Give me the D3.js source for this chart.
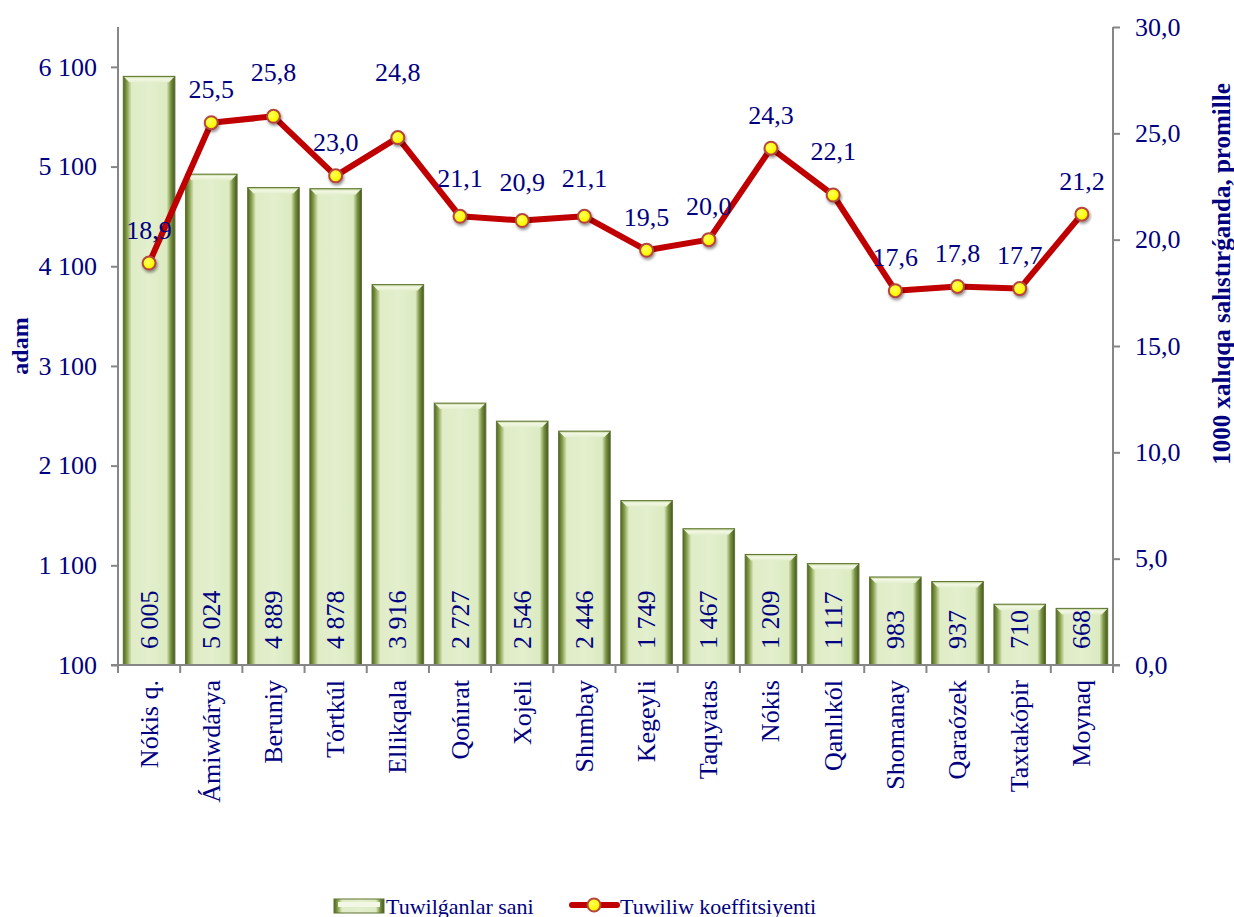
<!DOCTYPE html>
<html>
<head>
<meta charset="utf-8">
<script src="https://cdn.jsdelivr.net/npm/d3@7/dist/d3.min.js"></script>
<style>
  body { margin: 0; background: #fff; }
  svg text { font-family: "Liberation Serif", "Tinos", "Times New Roman", "DejaVu Serif", "Noto Serif", serif !important; fill: #000080; }
</style>
</head>
<body>
<div id="main"></div>
<script>
var regions = ['Nókis q.', 'Ámiwdárya', 'Beruniy', 'Tórtkúl', 'Ellikqala', 'Qońırat', 'Xojeli', 'Shımbay',
    'Kegeyli', 'Taqıyatas', 'Nókis', 'Qanlıkól', 'Shomanay', 'Qaraózek', 'Taxtakópir', 'Moynaq'];
var births = [6005, 5024, 4889, 4878, 3916, 2727, 2546, 2446, 1749, 1467, 1209, 1117, 983, 937, 710, 668];
var rates = [18.9, 25.5, 25.8, 23.0, 24.8, 21.1, 20.9, 21.1, 19.5, 20.0, 24.3, 22.1, 17.6, 17.8, 17.7, 21.2];
var leftTicks = [100, 1100, 2100, 3100, 4100, 5100, 6100];
var rightTicks = [0, 5, 10, 15, 20, 25, 30];
var seriesNames = ['Tuwilǵanlar sani', 'Tuwiliw koeffitsiyenti'];

var locale = d3.formatLocale({ decimal: ',', thousands: '\u00a0', grouping: [3], currency: ['', ''] });
var fmtInt = locale.format(',d');
var fmtDec = locale.format('.1f');

var W = 1234, H = 917;
var margins = { top: 27, bottom: 252, left: 118, right: 121 };
var width = W - margins.left - margins.right, height = H - margins.top - margins.bottom;
var fs = '26px';

var x = d3.scaleBand().domain(regions).range([0, width]).paddingInner(0.17).paddingOuter(0.085);
var yL = d3.scaleLinear().domain([100, 6500]).range([height, 0]);
var yR = d3.scaleLinear().domain([0, 30]).range([height, 0]);

var svg = d3.select('#main').append('svg').attr('width', W).attr('height', H);
var defs = svg.append('defs');

var barGrad = defs.append('linearGradient').attr('id', 'barGrad').attr('x1', 0).attr('x2', 1).attr('y1', 0).attr('y2', 0);
[[0, '#4f6426'], [0.07, '#849d48'], [0.16, '#dfecc6'], [0.5, '#e3efcd'], [0.84, '#dcebc2'], [0.92, '#7a9342'], [1, '#445720']]
    .forEach(function(s) { barGrad.append('stop').attr('offset', s[0]).attr('stop-color', s[1]); });
var topGrad = defs.append('linearGradient').attr('id', 'topGrad').attr('x1', 0).attr('x2', 0).attr('y1', 0).attr('y2', 1);
[[0, '#b7cc85'], [0.4, '#f3f8e6'], [1, '#e3efcd']]
    .forEach(function(s) { topGrad.append('stop').attr('offset', s[0]).attr('stop-color', s[1]); });
var dotGrad = defs.append('radialGradient').attr('id', 'dotGrad').attr('cx', 0.4).attr('cy', 0.4).attr('r', 0.6);
[[0, '#ffff66'], [0.7, '#ffff00'], [1, '#e6d600']]
    .forEach(function(s) { dotGrad.append('stop').attr('offset', s[0]).attr('stop-color', s[1]); });
var shadow = defs.append('filter').attr('id', 'shadow').attr('x', '-50%').attr('y', '-50%').attr('width', '200%').attr('height', '200%');
shadow.append('feDropShadow').attr('dx', 1).attr('dy', 2).attr('stdDeviation', 1.5).attr('flood-color', '#000').attr('flood-opacity', 0.45);

var chart = svg.append('g').attr('transform', 'translate(' + margins.left + ',' + margins.top + ')');

// bars
var bw = x.bandwidth();
var bars = chart.selectAll('.bar').data(births).enter().append('g').attr('class', 'bar')
    .attr('transform', function(d, i) { return 'translate(' + x(regions[i]) + ',0)'; });
bars.append('rect')
    .attr('x', 0).attr('width', bw)
    .attr('y', function(d) { return yL(d); })
    .attr('height', function(d) { return height - yL(d); })
    .attr('fill', 'url(#barGrad)');
bars.append('path')
    .attr('fill', 'url(#topGrad)')
    .attr('d', function(d) {
        var t = yL(d), e = 6;
        return 'M0 ' + t + ' L' + bw + ' ' + t + ' L' + (bw - e) + ' ' + (t + e) + ' L' + e + ' ' + (t + e) + ' Z';
    });
bars.append('rect')
    .attr('x', 0).attr('width', bw)
    .attr('y', function(d) { return yL(d); })
    .attr('height', function(d) { return height - yL(d); })
    .attr('fill', 'none').attr('stroke', '#5d7330').attr('stroke-width', 1);
bars.append('text')
    .attr('transform', 'translate(' + (bw / 2) + ',' + (height - 16) + ') rotate(-90)')
    .attr('dominant-baseline', 'central')
    .style('font-size', fs)
    .text(function(d) { return fmtInt(d); });

// axes
var axisColor = '#868686';
var gL = chart.append('g').call(d3.axisLeft(yL).tickValues(leftTicks).tickSize(7).tickPadding(14)
    .tickFormat(function(d) { return fmtInt(d); }));
var gR = chart.append('g').attr('transform', 'translate(' + width + ',0)')
    .call(d3.axisRight(yR).tickValues(rightTicks).tickSize(7).tickPadding(15)
    .tickFormat(function(d) { return fmtDec(d); }));
[gL, gR].forEach(function(g) {
    g.attr('font-family', null);
    g.select('.domain').attr('stroke', axisColor).attr('stroke-width', 2).attr('d', 'M0,0V' + (height + 8));
    g.selectAll('.tick line').attr('stroke', axisColor).attr('stroke-width', 2);
    g.selectAll('.tick text').attr('fill', '#000080').style('font-size', fs);
});
gL.select('.domain').attr('d', 'M0,0V' + height);

var gX = chart.append('g').attr('transform', 'translate(0,' + height + ')');
gX.append('line').attr('x1', -7).attr('x2', width + 7).attr('stroke', axisColor).attr('stroke-width', 2);
var bounds = regions.map(function(r) { return x(r) - x.step() * x.paddingInner() / 2; }).concat([width]);
bounds[0] = 0;
gX.selectAll('.xtick').data(bounds).enter().append('line')
    .attr('x1', function(d) { return d; }).attr('x2', function(d) { return d; })
    .attr('y1', 0).attr('y2', 8).attr('stroke', axisColor).attr('stroke-width', 2);
gX.selectAll('.xlab').data(regions).enter().append('text')
    .attr('transform', function(d) { return 'translate(' + (x(d) + bw / 2) + ',15) rotate(-90)'; })
    .attr('text-anchor', 'end').attr('dominant-baseline', 'central')
    .style('font-size', fs)
    .text(function(d) { return d; });

// line series
var line = d3.line()
    .x(function(d, i) { return x(regions[i]) + bw / 2; })
    .y(function(d) { return yR(d); });
chart.append('path').datum(rates)
    .attr('d', line).attr('fill', 'none')
    .attr('stroke', '#c00000').attr('stroke-width', 6).attr('stroke-linejoin', 'round');
chart.selectAll('.dot').data(rates).enter().append('circle')
    .attr('cx', function(d, i) { return x(regions[i]) + bw / 2; })
    .attr('cy', function(d) { return yR(d); })
    .attr('r', 6.5)
    .attr('fill', 'url(#dotGrad)').attr('stroke', '#b5453f').attr('stroke-width', 2)
    .attr('filter', 'url(#shadow)');
var labelLift = { 2: 44, 4: 65, 11: 44, 5: 38, 6: 38, 7: 38 };
chart.selectAll('.rlab').data(rates).enter().append('text')
    .attr('x', function(d, i) { return x(regions[i]) + bw / 2; })
    .attr('y', function(d, i) { return yR(d) - (labelLift[i] || 33); })
    .attr('text-anchor', 'middle').attr('dominant-baseline', 'central')
    .style('font-size', fs)
    .text(function(d) { return fmtDec(d); });

// axis titles
svg.append('text')
    .attr('transform', 'translate(20,346) rotate(-90)')
    .attr('text-anchor', 'middle').attr('dominant-baseline', 'central')
    .style('font-size', '24px').style('font-weight', 'bold')
    .text('adam');
svg.append('text')
    .attr('transform', 'translate(1221,' + (margins.top + 247) + ') rotate(-90)')
    .attr('text-anchor', 'middle').attr('dominant-baseline', 'central')
    .style('font-size', '25px').style('font-weight', 'bold')
    .text('1000 xalıqqa salıstırǵanda, promille');

// legend
var legend = svg.append('g').attr('transform', 'translate(0,905)');
legend.append('rect').attr('x', 334).attr('y', -6).attr('width', 50).attr('height', 14)
    .attr('fill', 'url(#barGrad)').attr('stroke', '#5d7330');
legend.append('rect').attr('x', 338).attr('y', -3).attr('width', 42).attr('height', 5).attr('fill', '#f3f8e6');
legend.append('text').attr('x', 386).attr('y', 1).attr('dominant-baseline', 'central')
    .style('font-size', '22px').text(seriesNames[0]);
legend.append('line').attr('x1', 572).attr('x2', 617).attr('y1', 0).attr('y2', 0)
    .attr('stroke', '#c00000').attr('stroke-width', 6).attr('stroke-linecap', 'round');
legend.append('circle').attr('cx', 594).attr('cy', 0).attr('r', 6.5)
    .attr('fill', 'url(#dotGrad)').attr('stroke', '#b5453f').attr('stroke-width', 2);
legend.append('text').attr('x', 620).attr('y', 1).attr('dominant-baseline', 'central')
    .style('font-size', '22px').text(seriesNames[1]);
</script>
</body>
</html>
